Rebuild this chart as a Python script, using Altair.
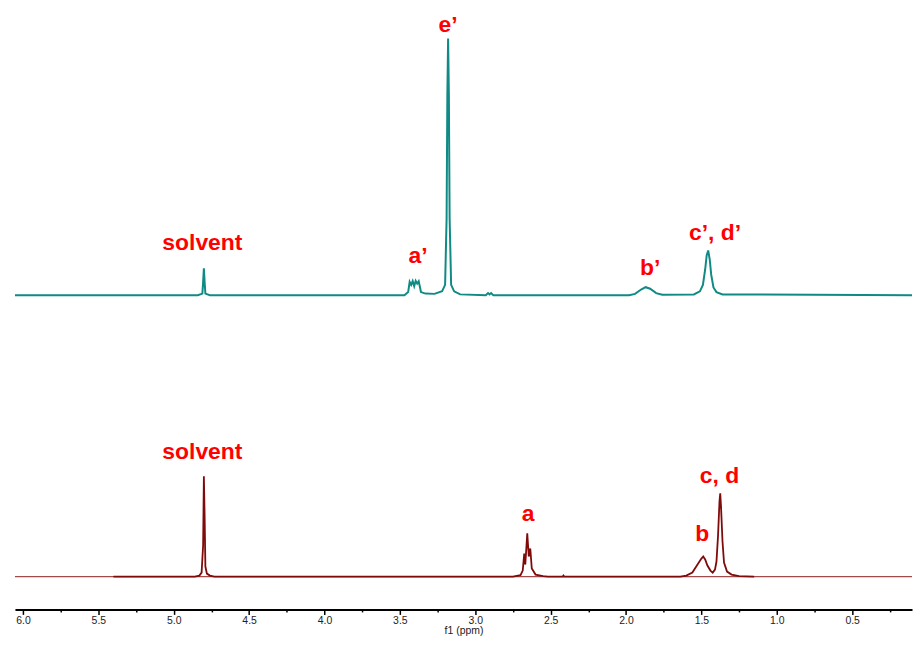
import altair as alt
import pandas as pd

# ---- top spectrum (teal) : ppm / relative intensity ----
top_ppm = [6.053, 4.84, 4.81, 4.805, 4.80, 4.795, 4.79, 4.76,
           3.47, 3.445, 3.435, 3.425, 3.415, 3.405, 3.395, 3.385, 3.375, 3.36, 3.33,
           3.27, 3.22, 3.20, 3.19, 3.185, 3.18, 3.175, 3.17, 3.16, 3.14, 3.10,
           2.93, 2.915, 2.905, 2.895, 2.88,
           1.98, 1.94, 1.90, 1.87, 1.84, 1.80, 1.76,
           1.55, 1.51, 1.49, 1.475, 1.465, 1.455, 1.445, 1.435, 1.42, 1.40, 1.36, 0.103]
top_int = [0, 0, 0.6, 5, 10.5, 5, 0.6, 0,
           0, 1.2, 5.2, 4.0, 5.5, 3.5, 5.6, 4.5, 5.4, 1.2, 0.6,
           0.5, 1.5, 4, 30, 78, 100, 78, 30, 4, 1.5, 0.3,
           0, 0.8, 0.3, 0.8, 0,
           0, 0.5, 2.2, 3.1, 2.5, 0.8, 0.2,
           0.3, 1.5, 4, 10, 15.5, 17.4, 14, 8, 3, 1.2, 0.3, 0]

# ---- bottom spectrum (dark red) ----
bot_ppm = [5.40, 4.86, 4.83, 4.815, 4.805, 4.80, 4.795, 4.79, 4.78, 4.76, 4.73,
           2.75, 2.70, 2.685, 2.675, 2.668, 2.655, 2.645, 2.635, 2.625, 2.60, 2.55, 2.52,
           2.42, 2.415, 2.41,
           1.64, 1.60, 1.56, 1.53, 1.50, 1.488, 1.475, 1.46, 1.44, 1.425, 1.41, 1.40,
           1.39, 1.38, 1.375, 1.37, 1.36, 1.35, 1.33, 1.30, 1.25, 1.15]
bot_int = [0, 0, 1, 4, 31, 100, 60, 10, 3, 1, 0,
           0, 1.5, 6, 23, 12, 43, 20, 28, 8, 2, 0.5, 0,
           0, 1, 0,
           0, 1, 4, 11, 18, 20, 17, 11, 6, 4, 7, 15,
           40, 75, 83, 70, 35, 14, 5, 2, 0.5, 0]
bot_base_ppm = [6.053, 0.103]
bot_base_int = [0, 0]

# ---- peak labels ----
top_lab_text = ["solvent", "a’", "e’", "b’", "c’, d’"]
top_lab_ppm = [4.81, 3.38, 3.18, 1.84, 1.41]
top_lab_int = [20.5, 15.1, 105.3, 10.5, 24.4]

bot_lab_text = ["solvent", "a", "b", "c, d"]
bot_lab_ppm = [4.81, 2.65, 1.495, 1.38]
bot_lab_int = [123.8, 62.4, 42.6, 100]

major_ticks = [6.0, 5.5, 5.0, 4.5, 4.0, 3.5, 3.0, 2.5, 2.0, 1.5, 1.0, 0.5]
minor_ticks = [5.75, 5.25, 4.75, 4.25, 3.75, 3.25, 2.75, 2.25, 1.75, 1.25, 0.75, 0.25]

TEAL = "#0f8a84"
DRED = "#7f0a0a"
RED = "#ff0000"

top_df = pd.DataFrame({"ppm": top_ppm, "intensity": top_int})
bot_df = pd.DataFrame({"ppm": bot_ppm, "intensity": bot_int})
bot_base_df = pd.DataFrame({"ppm": bot_base_ppm, "intensity": bot_base_int})
top_lab_df = pd.DataFrame({"ppm": top_lab_ppm, "intensity": top_lab_int, "label": top_lab_text})
bot_lab_df = pd.DataFrame({"ppm": bot_lab_ppm, "intensity": bot_lab_int, "label": bot_lab_text})

xscale = alt.Scale(domain=[0.103, 6.053], reverse=True, nice=False, zero=False)
top_y = alt.Scale(domain=[-122.48, 111.24], nice=False, zero=False)
bot_y = alt.Scale(domain=[-32.67, 564.36], nice=False, zero=False)

major_axis = alt.Axis(values=major_ticks, format=".1f", orient="bottom", grid=False,
                      tickSize=5, tickWidth=1.5, tickColor="black",
                      domainWidth=2, domainColor="black",
                      labelFont="Liberation Sans Narrow, Liberation Sans", labelFontSize=10.5,
                      labelColor="#222222", labelPadding=1,
                      title="f1 (ppm)", titleFont="Liberation Sans Narrow, Liberation Sans",
                      titleFontSize=10.5, titleFontWeight="normal", titleColor="#222222",
                      titlePadding=0)
minor_axis = alt.Axis(values=minor_ticks, orient="bottom", grid=False, labels=False,
                      domain=False, tickSize=2.5, tickWidth=1.5, tickColor="black",
                      title=None)

text_style = dict(font="Liberation Sans", fontSize=23, fontWeight="bold",
                  color=RED, align="center", baseline="middle")

top_line = alt.Chart(top_df).mark_line(color=TEAL, strokeWidth=2, interpolate="linear").encode(
    x=alt.X("ppm:Q", scale=xscale, axis=minor_axis),
    y=alt.Y("intensity:Q", scale=top_y, axis=None),
    order=alt.Order("ppm:Q"),
)
top_text = alt.Chart(top_lab_df).mark_text(**text_style).encode(
    x=alt.X("ppm:Q", scale=xscale, axis=minor_axis),
    y=alt.Y("intensity:Q", scale=top_y, axis=None),
    text="label:N",
)
top_group = alt.layer(top_line, top_text)

bot_base = alt.Chart(bot_base_df).mark_line(color="#a34a4a", strokeWidth=1.2).encode(
    x=alt.X("ppm:Q", scale=xscale, axis=major_axis),
    y=alt.Y("intensity:Q", scale=bot_y, axis=None),
)
bot_line = alt.Chart(bot_df).mark_line(color=DRED, strokeWidth=1.8, interpolate="linear").encode(
    x=alt.X("ppm:Q", scale=xscale, axis=major_axis),
    y=alt.Y("intensity:Q", scale=bot_y, axis=None),
    order=alt.Order("ppm:Q"),
)
bot_text = alt.Chart(bot_lab_df).mark_text(**text_style).encode(
    x=alt.X("ppm:Q", scale=xscale, axis=major_axis),
    y=alt.Y("intensity:Q", scale=bot_y, axis=None),
    text="label:N",
)
bot_group = alt.layer(bot_base, bot_line, bot_text)

chart = alt.layer(top_group, bot_group).resolve_scale(
    y="independent"
).resolve_axis(
    x="independent"
).properties(
    width=902, height=603,
    padding={"left": 3, "top": 0, "right": 0, "bottom": 0},
    background="white",
).configure_view(stroke=None)

chart.save("out.html", embed_options={"renderer": "svg", "actions": False})
